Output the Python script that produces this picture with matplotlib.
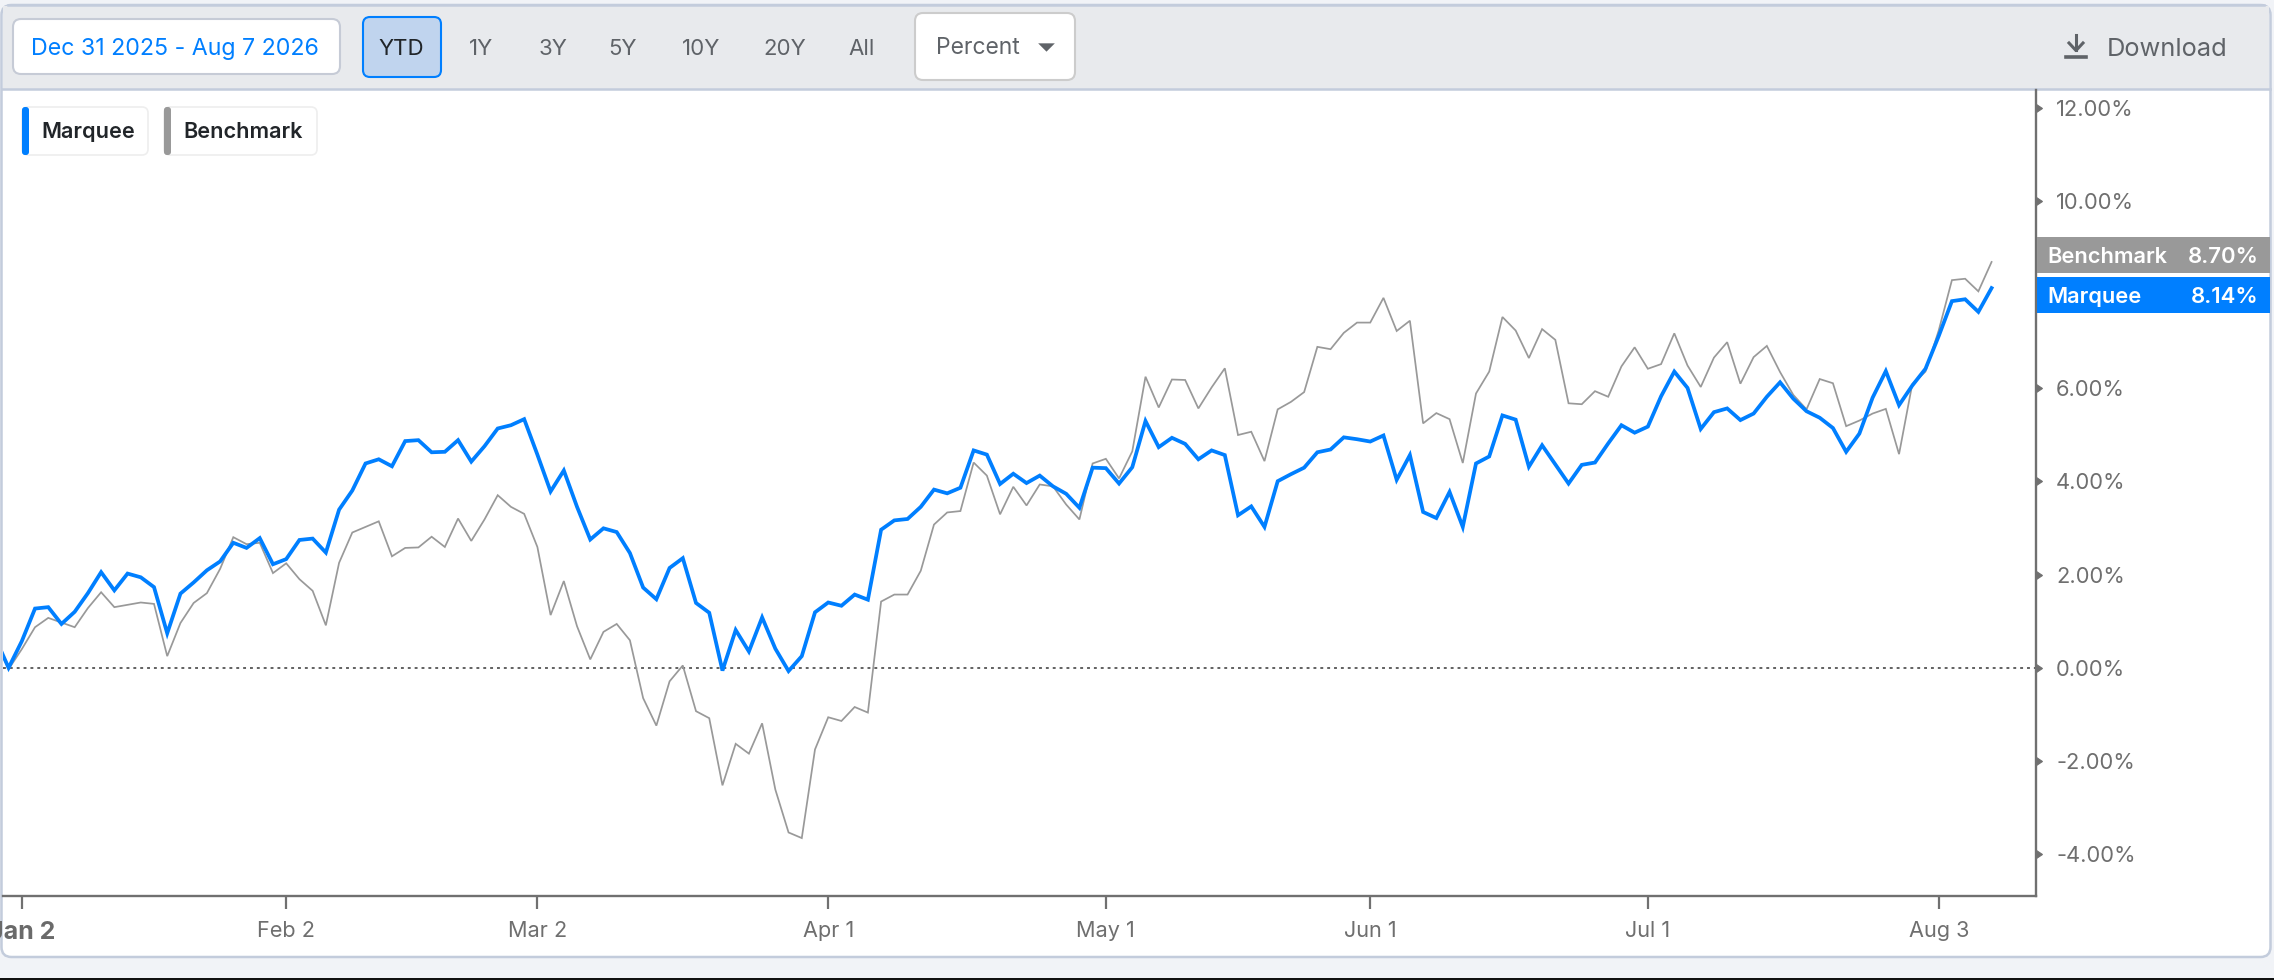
import matplotlib
matplotlib.use("Agg")
import matplotlib.pyplot as plt
from matplotlib.patches import FancyBboxPatch, Rectangle
from matplotlib.markers import CARETRIGHTBASE
import numpy as np

plt.rcParams['font.family'] = ['Inter', 'Roboto', 'DejaVu Sans']

marquee = [
    0.64, 0.00, 0.57, 1.27, 1.30, 0.94, 1.20, 1.60, 2.05, 1.66, 2.02, 1.94, 1.73, 0.74, 1.59, 1.83,
    2.09, 2.28, 2.68, 2.57, 2.78, 2.22, 2.33, 2.74, 2.77, 2.47, 3.39, 3.80, 4.38, 4.47, 4.32, 4.86,
    4.88, 4.62, 4.63, 4.88, 4.42, 4.75, 5.13, 5.20, 5.33, 4.57, 3.78, 4.23, 3.45, 2.75, 2.99, 2.91,
    2.46, 1.72, 1.47, 2.14, 2.35, 1.39, 1.18, -0.06, 0.81, 0.35, 1.08, 0.41, -0.07, 0.25, 1.19, 1.40,
    1.33, 1.57, 1.46, 2.96, 3.16, 3.19, 3.45, 3.82, 3.74, 3.86, 4.66, 4.57, 3.94, 4.16, 3.96, 4.12,
    3.89, 3.73, 3.43, 4.29, 4.28, 3.95, 4.30, 5.29, 4.73, 4.93, 4.80, 4.47, 4.66, 4.56, 3.27, 3.46,
    3.02, 4.00, 4.15, 4.29, 4.62, 4.68, 4.94, 4.90, 4.85, 4.98, 4.03, 4.56, 3.34, 3.21, 3.77, 3.02,
    4.38, 4.53, 5.41, 5.32, 4.31, 4.77, 4.36, 3.95, 4.35, 4.40, 4.81, 5.20, 5.04, 5.17, 5.82, 6.35,
    6.00, 5.12, 5.48, 5.56, 5.31, 5.45, 5.81, 6.12, 5.77, 5.50, 5.36, 5.14, 4.63, 5.02, 5.79, 6.36,
    5.63, 6.05, 6.41, 7.11, 7.86, 7.90, 7.63, 8.14,
]
benchmark = [
    0.61, -0.03, 0.40, 0.87, 1.07, 0.97, 0.87, 1.28, 1.62, 1.30, 1.35, 1.40, 1.37, 0.25, 0.96, 1.39,
    1.60, 2.12, 2.80, 2.65, 2.68, 2.03, 2.24, 1.90, 1.65, 0.91, 2.25, 2.90, 3.02, 3.14, 2.39, 2.57,
    2.58, 2.81, 2.59, 3.20, 2.72, 3.18, 3.70, 3.45, 3.30, 2.59, 1.13, 1.86, 0.89, 0.18, 0.77, 0.94,
    0.59, -0.65, -1.24, -0.29, 0.05, -0.93, -1.08, -2.52, -1.63, -1.84, -1.19, -2.61, -3.53, -3.65, -1.75, -1.06,
    -1.14, -0.84, -0.96, 1.42, 1.57, 1.57, 2.08, 3.07, 3.33, 3.36, 4.40, 4.12, 3.29, 3.88, 3.48, 3.93,
    3.89, 3.50, 3.18, 4.38, 4.48, 4.06, 4.64, 6.24, 5.58, 6.18, 6.17, 5.56, 6.01, 6.42, 4.99, 5.06,
    4.43, 5.54, 5.70, 5.91, 6.88, 6.83, 7.18, 7.40, 7.40, 7.93, 7.22, 7.44, 5.24, 5.46, 5.33, 4.39,
    5.88, 6.35, 7.52, 7.23, 6.64, 7.26, 7.03, 5.67, 5.65, 5.93, 5.81, 6.46, 6.87, 6.41, 6.51, 7.17,
    6.48, 6.02, 6.65, 6.98, 6.09, 6.66, 6.90, 6.34, 5.85, 5.54, 6.19, 6.10, 5.18, 5.30, 5.45, 5.55,
    4.58, 6.08, 6.35, 7.23, 8.31, 8.34, 8.07, 8.70,
]
x_tick_pos = [0, 20, 39, 61, 82, 102, 123, 145]
x_tick_labels = ['Jan 2', 'Feb 2', 'Mar 2', 'Apr 1', 'May 1', 'Jun 1', 'Jul 1', 'Aug 3']
y_tick_vals = [-4, -2, 0, 2, 4, 6, 10, 12]
y_tick_labels = ['-4.00%', '-2.00%', '0.00%', '2.00%', '4.00%', '6.00%', '10.00%', '12.00%']
ranges = ['YTD', '1Y', '3Y', '5Y', '10Y', '20Y', 'All']
range_x = [401, 481, 553, 623, 701, 785, 862]

W, H = 2274, 980
BLUE = '#007FFF'
GREY = '#999999'
TXT = '#6F6F6F'

fig = plt.figure(figsize=(W / 100, H / 100), dpi=100, facecolor='#F1F3F7')

bg = fig.add_axes([0, 0, 1, 1], zorder=0)
bg.set_xlim(0, W); bg.set_ylim(H, 0); bg.axis('off')

def box(a, x0, y0, x1, y1, fc, ec='none', lw=0, r=6, z=2):
    a.add_patch(FancyBboxPatch((x0 + r, y0 + r), x1 - x0 - 2 * r, y1 - y0 - 2 * r,
                               boxstyle=f'round,pad={r},rounding_size={r}',
                               fc=fc, ec=ec, lw=lw, zorder=z))

# panel and toolbar
box(bg, 1.5, 5, 2270.5, 957, '#FFFFFF', '#C3CCDC', 1.8, r=10, z=1)
bg.add_patch(Rectangle((3, 6), 2266, 83, fc='#E8EAED', ec='none', zorder=2))
bg.plot([8, 2264], [5, 5], color='#C3CCDC', lw=1.8, zorder=3)
bg.plot([2, 2270], [89, 89], color='#C3CCDC', lw=1.8, zorder=3)
bg.add_patch(Rectangle((0, 977.5), W, 2.5, fc='#111111', ec='none', zorder=3))

# main chart
L, R, T, B = 3, 2036, 90, 895.6
ax = fig.add_axes([L / W, 1 - B / H, (R - L) / W, (B - T) / H], zorder=1)
ax.patch.set_alpha(0)
x = np.arange(-2, len(marquee) - 2)
ax.plot(x, benchmark, color=GREY, lw=1.25, solid_joinstyle='miter', zorder=3)
ax.plot(x, marquee, color=BLUE, lw=2.7, solid_joinstyle='miter', zorder=4)
ax.axhline(0, color='#555555', lw=1.3, ls=(0, (1.6, 2.2)), zorder=2)
ax.set_xlim((L - 21.8) / 13.22, (R - 21.8) / 13.22)
ax.set_ylim((667.8 - B) / 46.65, (667.8 - T) / 46.65)
for s in ['top', 'left']:
    ax.spines[s].set_visible(False)
for s in ['right', 'bottom']:
    ax.spines[s].set_color('#707070')
    ax.spines[s].set_linewidth(1.7)
ax.set_xticks(x_tick_pos, x_tick_labels, color=TXT, fontsize=15.6)
ax.set_yticks(y_tick_vals, y_tick_labels, color=TXT, fontsize=15.8)
ax.yaxis.tick_right()
ax.tick_params(axis='x', length=9, width=1.6, color='#707070', pad=9)
ax.tick_params(axis='y', pad=11)
for t in ax.yaxis.get_major_ticks():
    t.tick2line.set_marker(CARETRIGHTBASE)
    t.tick2line.set_markersize(6)
    t.tick2line.set_markerfacecolor('#707070')
    t.tick2line.set_markeredgecolor('#707070')
first = ax.get_xticklabels()[0]
first.set_fontweight('bold')
first.set_fontsize(18)
first.set_color('#6A6A6A')

# overlay
ov = fig.add_axes([0, 0, 1, 1], zorder=2)
ov.set_xlim(0, W); ov.set_ylim(H, 0); ov.axis('off'); ov.patch.set_alpha(0)

box(ov, 13, 19, 340, 74, '#FFFFFF', '#C6CBD6', 1.5, r=8)
ov.text(175, 49, 'Dec 31 2025 - Aug 7 2026', color=BLUE, fontsize=16.7, ha='center', va='center')
box(ov, 363, 17, 441, 77, '#C0D4EE', BLUE, 1.5, r=7)
for lab, xx in zip(ranges, range_x):
    ov.text(xx, 49, lab, color='#212529' if lab == 'YTD' else '#5F6368', fontsize=16, ha='center', va='center')
box(ov, 915, 13, 1075, 80, '#FFFFFF', '#CCCCCC', 1.5, r=8)
ov.text(978, 48.5, 'Percent', color='#5F6368', fontsize=16.5, ha='center', va='center')
ov.plot([1046], [47], marker=[(-1, 0.5), (1, 0.5), (0, -0.5)], ms=12, color='#5F6368', ls='none', mew=0)

# download icon and text
ov.plot([2076, 2076], [35, 50], color='#5F6368', lw=2.2)
ov.plot([2069, 2076, 2083], [43, 50.5, 43], color='#5F6368', lw=2.2)
ov.plot([2066, 2086], [57, 57], color='#5F6368', lw=2.6)
ov.text(2167, 49, 'Download', color='#5F6368', fontsize=18.3, ha='center', va='center')

# legend chips
box(ov, 22, 107, 148, 155, '#FFFFFF', '#EEEEEE', 1.2, r=6)
box(ov, 22, 107, 29, 155, BLUE, r=3, z=3)
ov.text(88, 132.5, 'Marquee', color='#212529', fontsize=15.6, fontweight='semibold', ha='center', va='center')
box(ov, 164, 107, 317, 155, '#FFFFFF', '#EEEEEE', 1.2, r=6)
box(ov, 164, 107, 171, 155, GREY, r=3, z=3)
ov.text(243.5, 132.5, 'Benchmark', color='#212529', fontsize=15.6, fontweight='semibold', ha='center', va='center')

# end labels
ov.add_patch(Rectangle((2037, 237), 233, 35.7, fc=GREY, ec='none'))
ov.text(2047, 256.5, 'Benchmark', color='white', fontsize=15.7, fontweight='semibold', va='center')
ov.text(2259, 256.5, f'{benchmark[-1]:.2f}%', color='white', fontsize=16, fontweight='semibold', va='center', ha='right')
ov.add_patch(Rectangle((2037, 277), 233, 36, fc=BLUE, ec='none'))
ov.text(2047, 296.5, 'Marquee', color='white', fontsize=15.7, fontweight='semibold', va='center')
ov.text(2259, 296.5, f'{marquee[-1]:.2f}%', color='white', fontsize=16, fontweight='semibold', va='center', ha='right')

fig.savefig('out.png', dpi=100, facecolor=fig.get_facecolor())
